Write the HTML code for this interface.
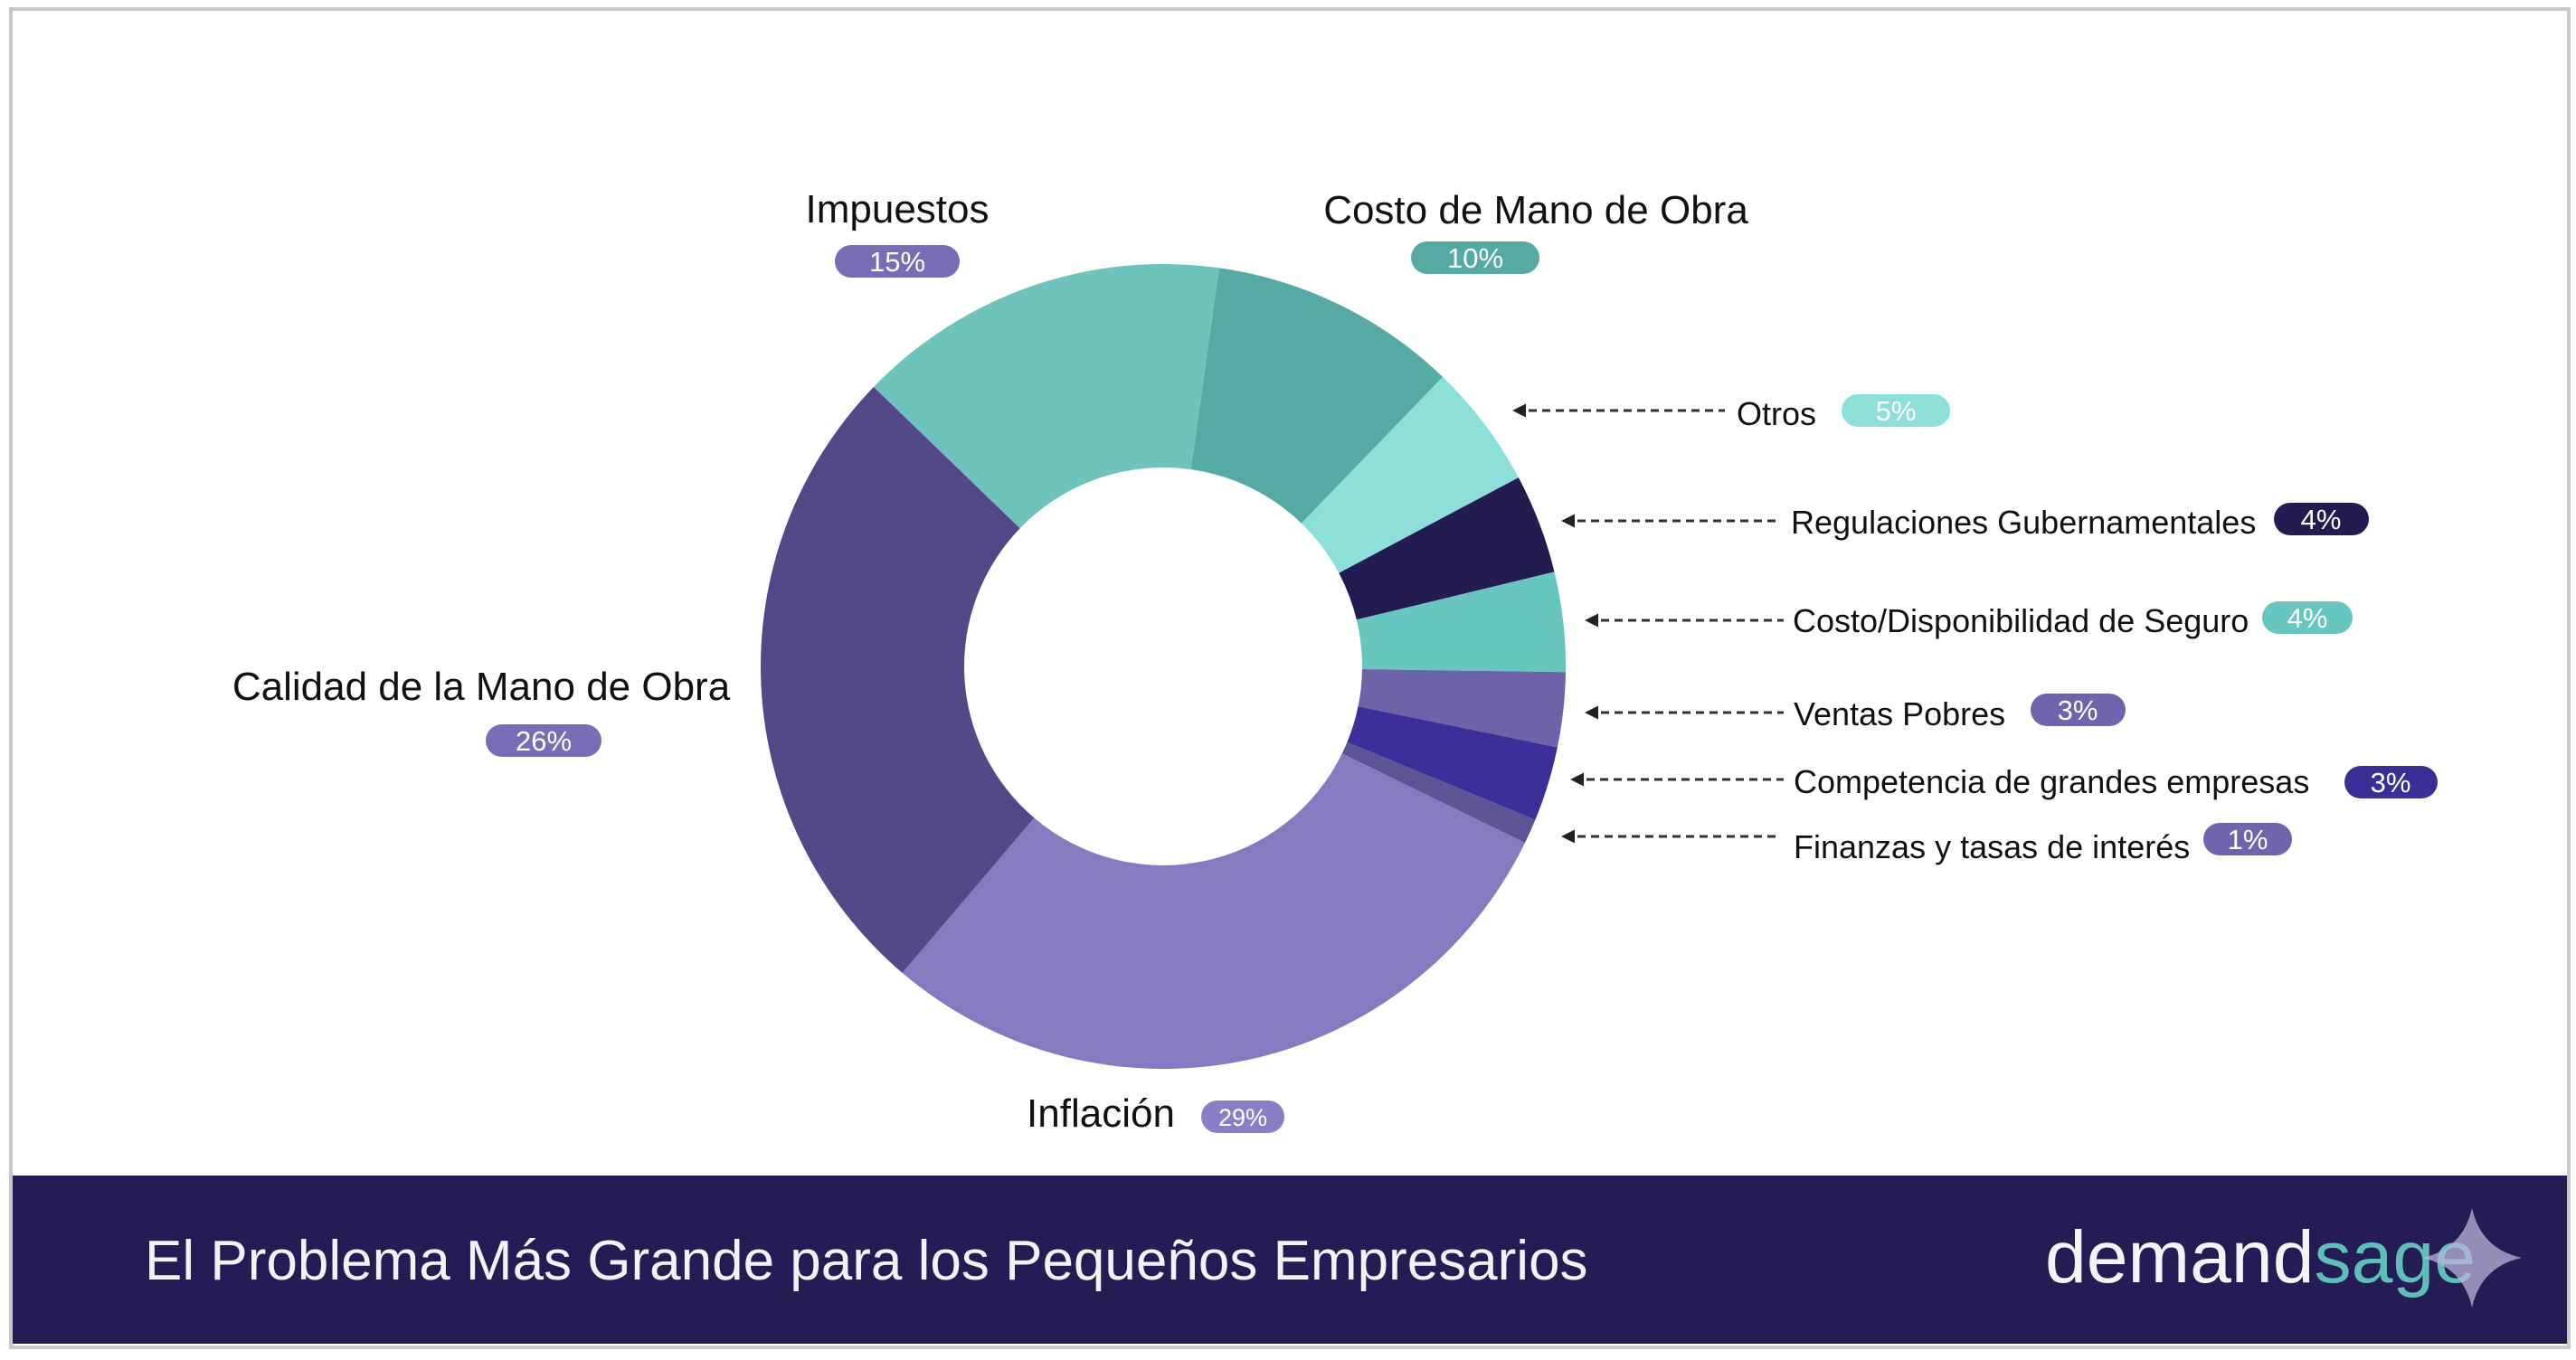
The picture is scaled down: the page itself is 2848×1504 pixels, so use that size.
<!DOCTYPE html>
<html><head><meta charset="utf-8"><style>
html,body{margin:0;padding:0;background:#fff;}
svg{display:block;}
text{font-family:"Liberation Sans",sans-serif;}
</style></head><body>
<svg id="s" width="2848" height="1504" viewBox="0 0 2848 1504" xmlns="http://www.w3.org/2000/svg">
<rect x="0" y="0" width="2848" height="1504" fill="#fff"/>
<rect x="12" y="10" width="2828" height="1480" fill="#fff" stroke="#c8c8cc" stroke-width="4"/>
<g id="donut"></g>
<defs><marker id="ar" viewBox="0 0 10 10" refX="2" refY="5" markerWidth="5" markerHeight="5" orient="auto"><path d="M10,0 L0,5 L10,10 z" fill="#222"/></marker></defs>
<g stroke="#333" stroke-width="3" stroke-dasharray="9,6" marker-start="url(#ar)">
<line x1="1675" y1="454" x2="1907" y2="454"/>
<line x1="1729" y1="576" x2="1965" y2="576"/>
<line x1="1755" y1="686" x2="1972" y2="686"/>
<line x1="1755" y1="788" x2="1972" y2="788"/>
<line x1="1739" y1="862" x2="1972" y2="862"/>
<line x1="1729" y1="925" x2="1965" y2="925"/>
</g>
<g font-size="44" fill="#111" text-anchor="middle">
<text x="992" y="246">Impuestos</text>
<text x="1698" y="247">Costo de Mano de Obra</text>
<text x="532" y="774">Calidad de la Mano de Obra</text>
<text x="1217" y="1246">Inflación</text>
</g>
<g font-size="36" fill="#111">
<text x="1920" y="470">Otros</text>
<text x="1980" y="590">Regulaciones Gubernamentales</text>
<text x="1982" y="699">Costo/Disponibilidad de Seguro</text>
<text x="1983" y="802">Ventas Pobres</text>
<text x="1983" y="877">Competencia de grandes empresas</text>
<text x="1983" y="949">Finanzas y tasas de interés</text>
</g>
<g>
<rect x="923" y="271" width="138" height="36" rx="18" fill="#7a6cb6"/>
<rect x="1560" y="267" width="142" height="36" rx="18" fill="#55aaa6"/>
<rect x="2036" y="436" width="120" height="36" rx="18" fill="#8de0da"/>
<rect x="2514" y="556" width="105" height="36" rx="18" fill="#221c52"/>
<rect x="2501" y="665" width="100" height="36" rx="18" fill="#67c7bf"/>
<rect x="2245" y="767" width="105" height="36" rx="18" fill="#7064ae"/>
<rect x="2592" y="847" width="103" height="36" rx="18" fill="#3a2f96"/>
<rect x="2436" y="910" width="98" height="36" rx="18" fill="#7064ae"/>
<rect x="537" y="801" width="128" height="36" rx="18" fill="#7a6cb6"/>
<rect x="1328" y="1217" width="92" height="36" rx="18" fill="#8a7fc6"/>
</g>
<g font-size="31" fill="#fff" text-anchor="middle">
<text x="992" y="300">15%</text>
<text x="1631" y="296">10%</text>
<text x="2096" y="465">5%</text>
<text x="2566" y="585">4%</text>
<text x="2551" y="694">4%</text>
<text x="2297" y="796">3%</text>
<text x="2643" y="876">3%</text>
<text x="2485" y="939">1%</text>
<text x="601" y="830">26%</text>
<text x="1374" y="1245" font-size="27">29%</text>
</g>
<rect x="14" y="1300" width="2824" height="186" fill="#241c55"/>
<text x="160" y="1415" font-size="62" fill="#f2f2f6">El Problema Más Grande para los Pequeños Empresarios</text>
<text x="2261" y="1418" font-size="82" fill="#f4f4f8" textLength="476" lengthAdjust="spacingAndGlyphs">demand<tspan fill="#5fbfb8">sage</tspan></text>
<path d="M2733,1336 Q2743,1381 2788,1391 Q2743,1401 2733,1446 Q2723,1401 2678,1391 Q2723,1381 2733,1336 Z" fill="#b9b4d8" opacity="0.75"/>
</svg>
<script>
(function(){
var cx=1286,cy=737,R=445,r=220;
var d=[[10,"#55aaa6"],[5,"#8de0da"],[4,"#221c52"],[4,"#67c7bf"],[3,"#6e62a8"],[3,"#3c2f99"],[1,"#5d5495"],[29,"#857bc0"],[26,"#544988"],[15,"#6ec4bd"]];
var a=8,g=document.getElementById("donut"),h="";
function p(ang,rad){var t=(ang-90)*Math.PI/180;return (cx+rad*Math.cos(t)).toFixed(1)+","+(cy+rad*Math.sin(t)).toFixed(1);}
d.forEach(function(s){var b=a+s[0]*3.6;var lg=(b-a)>180?1:0;
h+='<path fill="'+s[1]+'" d="M'+p(a,R)+' A'+R+','+R+' 0 '+lg+' 1 '+p(b,R)+' L'+p(b,r)+' A'+r+','+r+' 0 '+lg+' 0 '+p(a,r)+' Z"/>';a=b;});
g.innerHTML=h;
})();
</script>
</body></html>
